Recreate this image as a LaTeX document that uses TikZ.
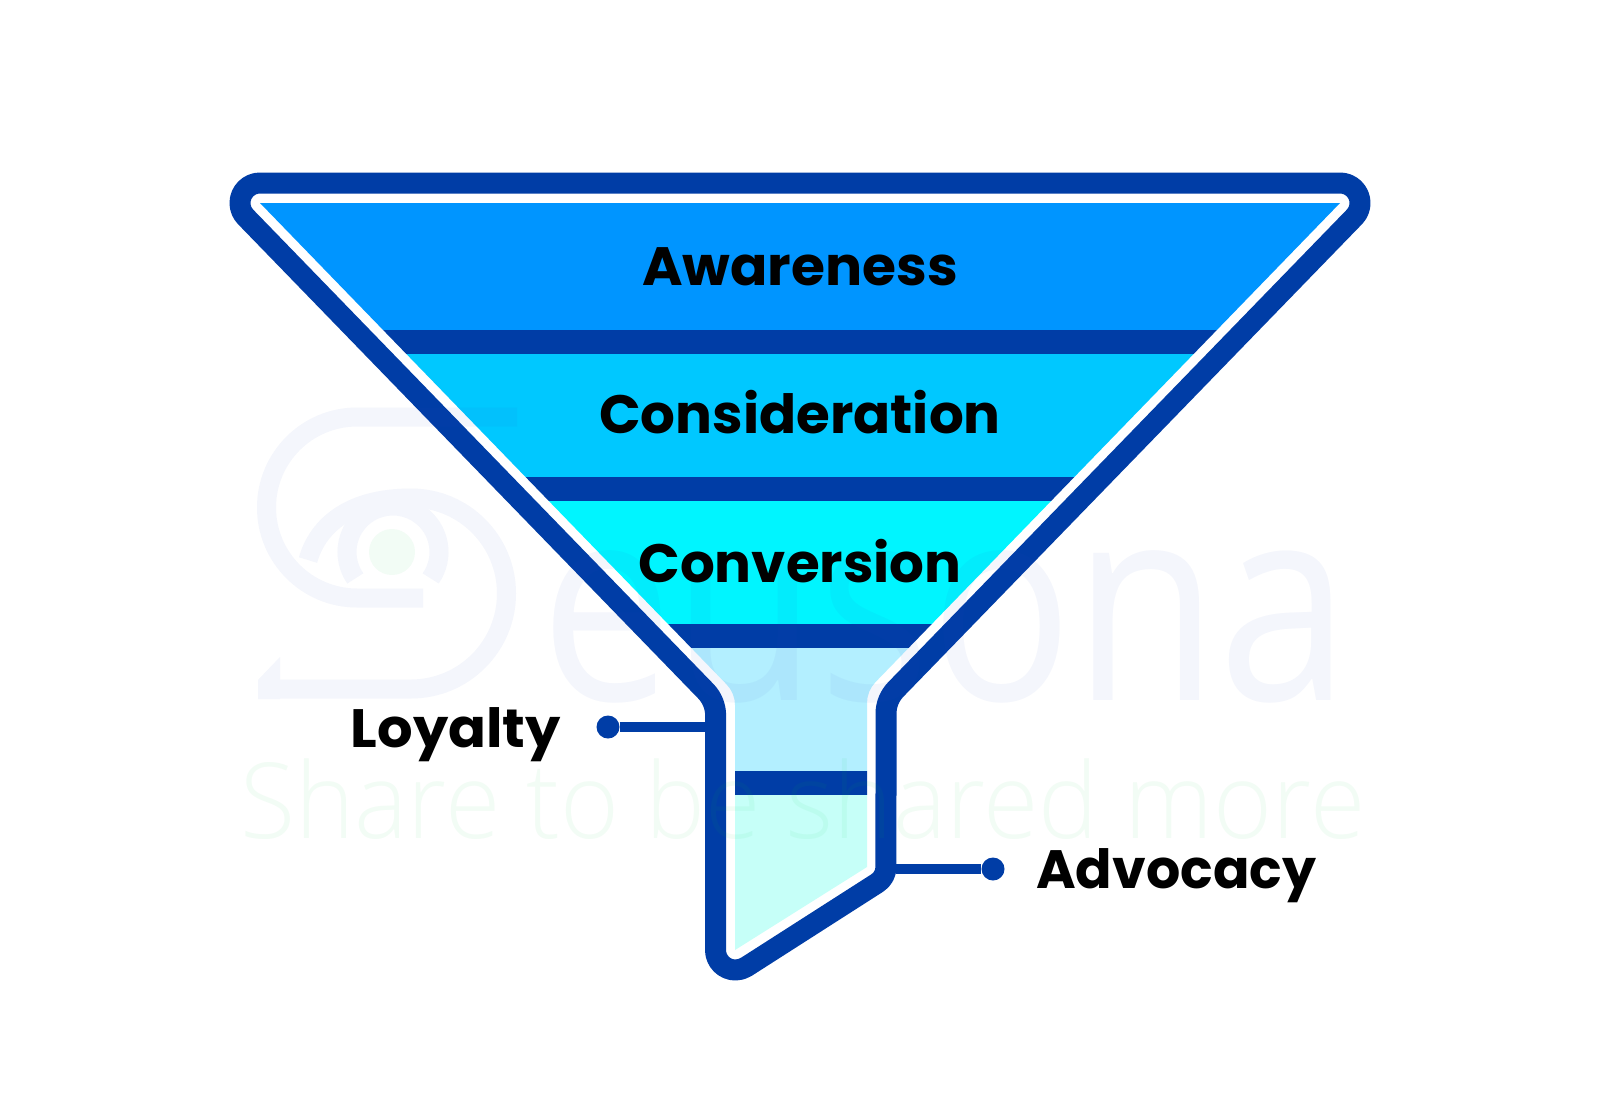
\documentclass[tikz,border=0pt]{standalone}
\usepackage{fontspec}
\setmainfont{Poppins}[BoldFont=* Bold]
\newfontfamily\wmfont{Open Sans}
\newfontfamily\wmtag{Open Sans Light}
\definecolor{navy}{HTML}{003DA6}
\definecolor{bandA}{HTML}{0095FF}
\definecolor{bandB}{HTML}{00C8FF}
\definecolor{bandC}{HTML}{00F5FF}
\definecolor{bandD}{HTML}{B3EFFF}
\definecolor{bandE}{HTML}{C6FFF8}
\definecolor{wmblue}{HTML}{2A4FC8}
\definecolor{wmgreen}{HTML}{00C840}
\tikzset{
  x=1pt,y=-1pt,
  funnelline/.style={draw=navy,line width=21pt,line join=round},
  divider/.style={fill=navy},
  tierlabel/.style={font=\bfseries\fontsize{54}{60}\selectfont,text=black,anchor=base,inner sep=0pt},
  leader/.style={draw=navy,line width=10pt},
  dotnode/.style={circle,fill=navy,inner sep=0pt,minimum size=23pt},
  wmstroke/.style={draw=wmblue,line width=19pt},
}
\begin{document}
\begin{tikzpicture}
\useasboundingbox (0,0) rectangle (1600,1100);
\fill[white] (0,0) rectangle (1600,1100);
% tiers
\begin{scope}
\clip (260,203) -- (726.6,684.4) arc[start angle=-44,end angle=0,radius=30] -- (735,950) -- (867,867) -- (867,703) arc[start angle=180,end angle=224,radius=30] -- (1340,203) -- cycle;
\fill[bandA] (200,200) rectangle (1400,330);
\fill[divider] (200,330) rectangle (1400,354);
\fill[bandB] (200,354) rectangle (1400,477);
\fill[divider] (200,477) rectangle (1400,501);
\fill[bandC] (200,501) rectangle (1400,624);
\fill[divider] (200,624) rectangle (1400,648);
\fill[bandD] (200,648) rectangle (1400,771);
\fill[divider] (200,771) rectangle (1400,795);
\fill[bandE] (200,795) rectangle (1400,960);
\end{scope}
% outline
\draw[funnelline] (260,183) arc[start angle=-90,end angle=-224,radius=20]
  -- (705.8,691.2) arc[start angle=-44,end angle=0,radius=35]
  -- (715.5,950) arc[start angle=180,end angle=57.8,radius=20]
  -- (877.1,883.1) arc[start angle=57.8,end angle=0,radius=19]
  -- (886,713.7) arc[start angle=180,end angle=224,radius=35]
  -- (1354.4,216.9) arc[start angle=44,end angle=-90,radius=20]
  -- cycle;
% watermark
\begin{scope}[transparency group,opacity=.05]
\draw[wmstroke] (517,417) -- (357,417) arc[start angle=-90,end angle=-270,radius=90.5] -- (423,598);
\draw[wmstroke] (268,689) -- (411,689) arc[start angle=90,end angle=-90,radius=95.5] .. controls (350,498) and (318,525) .. (308,560);
\fill[wmblue] (258,699) -- (258,680) -- (280,657) -- (280,699) -- cycle;
\draw[wmstroke] (393,552) ++(35:46) arc[start angle=35,end angle=-215,radius=46];
\end{scope}
\fill[wmgreen,opacity=.05] (392,552) circle[radius=23];
\node[anchor=base west,inner sep=0pt,text=wmblue,opacity=.05] (wmname) at (540,700) {\scalebox{.86}[1]{\wmfont\fontsize{275}{290}\selectfont eusona}};
\node[anchor=base west,inner sep=0pt,text=wmgreen,opacity=.05] (wmtagline) at (240,838) {\scalebox{.959}[1]{\wmtag\fontsize{105}{120}\selectfont Share to be shared more}};
% labels
\node[tierlabel] (awareness) at (800,285) {\scalebox{1.02}[1]{Awareness}};
\node[tierlabel] (consideration) at (800,433) {\scalebox{1.013}[1]{Consideration}};
\node[tierlabel] (conversion) at (800,582) {\scalebox{1.013}[1]{Conversion}};
\node[tierlabel,anchor=base east] (loyalty) at (561,747) {\scalebox{1.035}[1]{Loyalty}};
\node[tierlabel,anchor=base west] (advocacy) at (1036,888) {\scalebox{.997}[1]{Advocacy}};
% leaders
\coordinate (loyaltyend) at (706,727);
\coordinate (advocacyend) at (896,869);
\node[dotnode] (loyaltydot) at (608,727) {};
\node[dotnode] (advocacydot) at (993,869) {};
\draw[leader] (loyaltydot) -- (loyaltyend);
\draw[leader] (advocacyend) -- (advocacydot);
\end{tikzpicture}
\end{document}
